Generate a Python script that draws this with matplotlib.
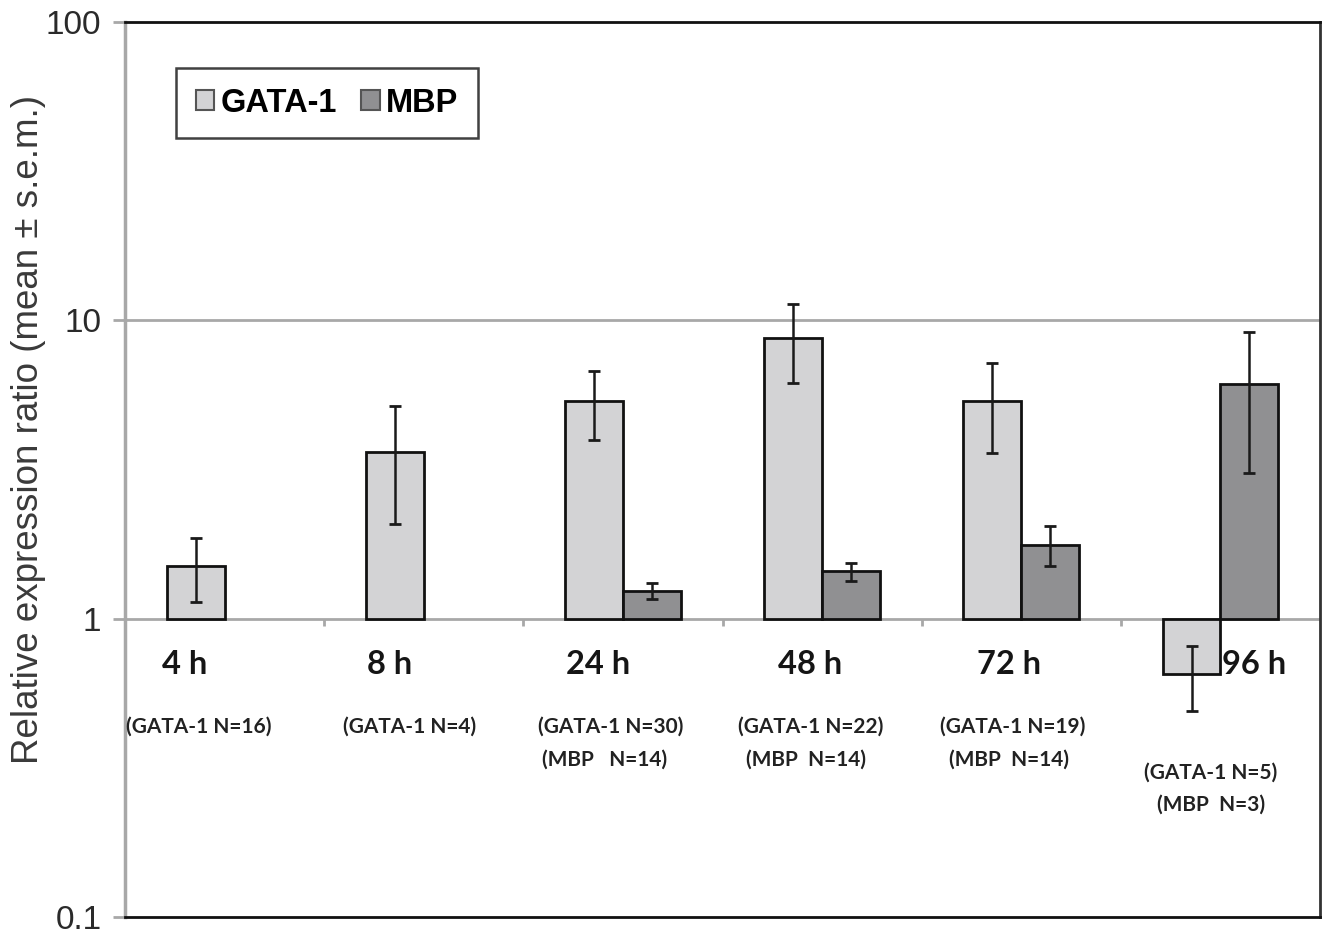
import numpy as np
import matplotlib
matplotlib.use("Agg")
import matplotlib.pyplot as plt

# values (mean and s.e.m.)
hours = ["4 h", "8 h", "24 h", "48 h", "72 h", "96 h"]
gata = [1.50, 3.62, 5.37, 8.73, 5.38, 0.65]
gata_sem = [0.36, 1.55, 1.40, 2.57, 1.80, 0.16]
mbp = [np.nan, np.nan, 1.24, 1.44, 1.77, 6.12]
mbp_sem = [np.nan, np.nan, 0.075, 0.10, 0.27, 3.04]
n_gata = ["(GATA-1 N=16)", "(GATA-1 N=4)", "(GATA-1 N=30)",
          "(GATA-1 N=22)", "(GATA-1 N=19)", "(GATA-1 N=5)"]
n_mbp = [None, None, "(MBP   N=14)", "(MBP  N=14)", "(MBP  N=14)", "(MBP  N=3)"]

c_gata = "#d3d3d5"
c_mbp = "#909092"
grid_c = "#a8a8a8"

fig = plt.figure(figsize=(13.29, 9.34), dpi=100)
ax = fig.add_axes([125 / 1329, 17 / 934, 1195 / 1329, 895 / 934])
ax.set_yscale("log")
ax.set_ylim(0.1, 100)
ax.set_xlim(-0.5, 5.5)

x = np.arange(len(hours))
w = 0.29
gata = np.array(gata)
mbp = np.array(mbp)
has_mbp = ~np.isnan(mbp)

ax.axhline(10, color=grid_c, lw=2, zorder=1)
ax.axhline(1, color=grid_c, lw=2, zorder=1)
ax.vlines(x[:-1] + 0.5, 0.947, 1, color=grid_c, lw=2, zorder=1)

ax.bar(x - w / 2, gata - 1, bottom=1, width=w, color=c_gata,
       edgecolor="#111111", lw=2, label="GATA-1", zorder=2)
ax.bar(x[has_mbp] + w / 2, mbp[has_mbp] - 1, bottom=1, width=w, color=c_mbp,
       edgecolor="#111111", lw=2, label="MBP", zorder=2)
ax.errorbar(x - w / 2, gata, yerr=gata_sem, fmt="none", ecolor="#1a1a1a",
            elinewidth=1.8, capsize=4.5, capthick=2, zorder=3)
ax.errorbar(x[has_mbp] + w / 2, mbp[has_mbp], yerr=np.array(mbp_sem)[has_mbp],
            fmt="none", ecolor="#1a1a1a", elinewidth=1.8, capsize=4.5,
            capthick=2, zorder=3)

# category labels under the baseline
trans = ax.get_xaxis_transform()
hour_dx = [-0.2, -0.17, -0.125, -0.06, -0.06, 0.17]
sub_dx1 = [-0.13, -0.07, -0.06, -0.055, -0.045, -0.05]
sub_dx2 = [0, 0, -0.09, -0.08, -0.06, -0.045]
for i, lab in enumerate(hours):
    ax.text(x[i] + hour_dx[i], 0.2816, lab, transform=trans, ha="center",
            va="center", fontsize=23.5, fontweight="bold", family="Lato",
            color="#151515")
    y1 = 0.1609 if i == 5 else 0.2123
    ax.text(x[i] + sub_dx1[i], y1, n_gata[i], transform=trans, ha="center",
            va="center", fontsize=15, fontweight="bold", family="Lato",
            color="#222222")
    if n_mbp[i]:
        y2 = 0.1251 if i == 5 else 0.1754
        ax.text(x[i] + sub_dx2[i], y2, n_mbp[i], transform=trans, ha="center",
                va="center", fontsize=15, fontweight="bold", family="Lato",
                color="#222222")

ax.set_xticks([])
ax.set_yticks([0.1, 1, 10, 100])
ax.set_yticklabels(["0.1", "1", "10", "100"])
ax.minorticks_off()
ax.tick_params(axis="y", which="major", length=9, width=2, color=grid_c,
               labelsize=24, labelcolor="#2a2a2a", pad=8)
for lab in ax.get_yticklabels():
    lab.set_family("Liberation Sans")
ax.set_ylabel("Relative expression ratio (mean \u00b1 s.e.m.)",
              family="Liberation Sans", fontsize=26.5, color="#3a3a3a")
ax.yaxis.set_label_coords(-0.066, 0.545)

ax.spines["left"].set_color(grid_c)
ax.spines["left"].set_linewidth(2.5)
ax.spines["top"].set_color("#111111")
ax.spines["top"].set_linewidth(2)
ax.spines["right"].set_color("#333333")
ax.spines["right"].set_linewidth(2)
ax.spines["bottom"].set_color("#111111")
ax.spines["bottom"].set_linewidth(2)

leg = ax.legend(loc="upper left", bbox_to_anchor=(0.0427, 0.9486), ncol=2,
                borderaxespad=0, frameon=True, fancybox=False,
                edgecolor="#111111", handlelength=0.56, handleheight=0.56,
                handletextpad=0.2, columnspacing=0.75, borderpad=0.6,
                prop={"family": "Liberation Sans", "weight": "bold",
                      "size": 23.5})
leg.get_frame().set_linewidth(1.8)
for h in leg.legend_handles:
    h.set_edgecolor("#555555")
    h.set_linewidth(1.5)

fig.savefig("out.png", dpi=100)
